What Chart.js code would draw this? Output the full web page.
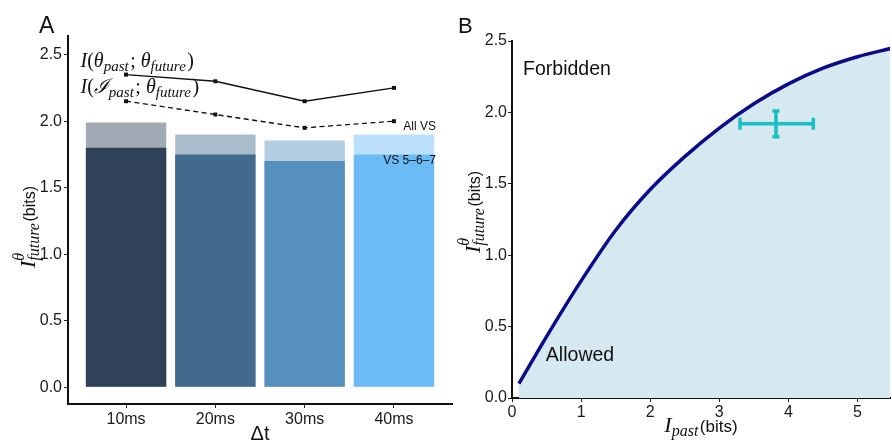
<!DOCTYPE html>
<html>
<head>
<meta charset="utf-8">
<script src="https://cdn.jsdelivr.net/npm/chart.js@4.4.1/dist/chart.umd.min.js"></script>
<style>
  body { margin: 0; background: #fff; }
  #wrap { position: relative; width: 892px; height: 442px; }
  canvas { position: absolute; top: 0; }
</style>
</head>
<body>
<div id="wrap">
  <canvas id="chartA" width="456" height="442" style="left:0px"></canvas>
  <canvas id="chartB" width="436" height="442" style="left:456px"></canvas>
</div>
<script>
// panel A data
var categories = ["10ms", "20ms", "30ms", "40ms"];
var allVS = [1.99, 1.90, 1.855, 1.90];
var vs567 = [1.80, 1.75, 1.70, 1.75];
var iThetaPast = [2.35, 2.30, 2.15, 2.25];
var iImagePast = [2.15, 2.05, 1.95, 2.00];
var yTicksA = [0, 0.5, 1.0, 1.5, 2.0, 2.5];

// panel B data
var iPast = [0.1, 0.5, 1.0, 1.5, 2.0, 2.5, 3.0, 3.5, 4.0, 4.5, 5.0, 5.5];
var boundary = [0.10, 0.43, 0.82, 1.175, 1.46, 1.69, 1.89, 2.06, 2.20, 2.31, 2.39, 2.45];
var measuredX = [3.30, 3.82, 4.36];   // low, mid, high
var measuredY = [1.83, 1.92, 2.01];
var xTicksB = [0, 1, 2, 3, 4, 5];
var yTicksB = [0, 0.5, 1.0, 1.5, 2.0, 2.5];

var barColors = ["#2f4259", "#426a8c", "#5690bf", "#6bbbf7"];
var SANS = "'Liberation Sans', Arial, sans-serif";
var SERIF = "'Liberation Serif', serif";

function fade(hex, a) {
    var r = parseInt(hex.substr(1, 2), 16), g = parseInt(hex.substr(3, 2), 16), b = parseInt(hex.substr(5, 2), 16);
    return "rgba(" + r + "," + g + "," + b + "," + a + ")";
}

// draws a run of math-ish text, returns its width
// st = {main, up, small, supDy, subDy}
function drawRun(ctx, parts, x, y, st, doDraw) {
    var cx = x;
    parts.forEach(function(p) {
        if (p.sup !== undefined || p.sub !== undefined) {
            ctx.font = st.small;
            var w = 0;
            if (p.sup) { if (doDraw) ctx.fillText(p.sup, cx, y + st.supDy); w = Math.max(w, ctx.measureText(p.sup).width); }
            if (p.sub) { if (doDraw) ctx.fillText(p.sub, cx, y + st.subDy); w = Math.max(w, ctx.measureText(p.sub).width); }
            cx += w + 1.5;
        } else {
            ctx.font = p.f === "up" ? st.up : (p.f || st.main);
            if (doDraw) ctx.fillText(p.t, cx, y);
            cx += ctx.measureText(p.t).width;
        }
    });
    return cx - x;
}

var labelStyle = {main: "italic 20px " + SERIF, up: "20px " + SERIF, small: "italic 15px " + SERIF, supDy: -9, subDy: 4};
var titleStyle = {main: "italic 22px " + SERIF, up: "22px " + SERIF, small: "italic 16px " + SERIF, supDy: -11, subDy: 4};

function yTitle(ctx, cx, cy) {
    var parts = [{t: "I"}, {sup: "\u03b8", sub: "future"}, {t: "(bits)", f: "16px " + SANS}];
    ctx.save();
    ctx.translate(cx, cy);
    ctx.rotate(-Math.PI / 2);
    var w = drawRun(ctx, parts, 0, 0, titleStyle, false);
    drawRun(ctx, parts, -w / 2, 0, titleStyle, true);
    ctx.restore();
}

var xs = categories.map(function(c, i) { return i + 1; });

var annotateA = {
    id: "annotateA",
    afterDraw: function(chart) {
        var ctx = chart.ctx, sx = chart.scales.x, sy = chart.scales.y;
        ctx.save();
        ctx.fillStyle = "#111";
        ctx.textBaseline = "alphabetic";
        drawRun(ctx, [{t: "I"}, {t: "(", f: "up"}, {t: "\u03b8"}, {sub: "past"}, {t: "; ", f: "up"}, {t: "\u03b8"}, {sub: "future"}, {t: ")", f: "up"}],
            sx.getPixelForValue(0.49), sy.getPixelForValue(2.41), labelStyle, true);
        drawRun(ctx, [{t: "I"}, {t: "(", f: "up"}, {t: "\u2110"}, {sub: "past"}, {t: "; ", f: "up"}, {t: "\u03b8"}, {sub: "future"}, {t: ")", f: "up"}],
            sx.getPixelForValue(0.49), sy.getPixelForValue(2.21), labelStyle, true);

        ctx.font = "12px " + SANS;
        ctx.textAlign = "right";
        ctx.textBaseline = "middle";
        ctx.fillText("All VS", sx.getPixelForValue(4.47), sy.getPixelForValue(1.955));
        ctx.fillText("VS 5\u20136\u20137", sx.getPixelForValue(4.47), sy.getPixelForValue(1.70));

        ctx.textAlign = "center";
        ctx.font = "20px " + SANS;
        ctx.fillText("\u0394t", (chart.chartArea.left + chart.chartArea.right) / 2, 434);

        ctx.textAlign = "left";
        ctx.textBaseline = "alphabetic";
        ctx.font = "23px " + SANS;
        ctx.fillText("A", 39, 33);

        yTitle(ctx, 35, 227);
        ctx.restore();
    }
};

new Chart(document.getElementById("chartA"), {
    type: "bar",
    data: {
        datasets: [{
            type: "line",
            data: xs.map(function(x, i) { return {x: x, y: iThetaPast[i]}; }),
            borderColor: "#111", borderWidth: 1.3,
            pointStyle: "rect", pointRadius: 2.8, pointBackgroundColor: "#111", pointBorderWidth: 0,
            order: 0
        }, {
            type: "line",
            data: xs.map(function(x, i) { return {x: x, y: iImagePast[i]}; }),
            borderColor: "#111", borderWidth: 1.3, borderDash: [5, 3.5],
            pointStyle: "rect", pointRadius: 2.8, pointBackgroundColor: "#111", pointBorderWidth: 0,
            order: 0
        }, {
            data: xs.map(function(x, i) { return {x: x, y: vs567[i]}; }),
            backgroundColor: barColors,
            grouped: false, barPercentage: 0.9, categoryPercentage: 1,
            order: 1
        }, {
            data: xs.map(function(x, i) { return {x: x, y: allVS[i]}; }),
            backgroundColor: barColors.map(function(c) { return fade(c, 0.45); }),
            grouped: false, barPercentage: 0.9, categoryPercentage: 1,
            order: 2
        }]
    },
    options: {
        responsive: false,
        animation: false,
        layout: {padding: {left: 0, right: 4, top: 36, bottom: 0}},
        plugins: {legend: {display: false}, tooltip: {enabled: false}},
        scales: {
            x: {
                type: "linear", min: 0.35, max: 4.65, offset: false,
                afterBuildTicks: function(s) { s.ticks = xs.map(function(v) { return {value: v}; }); },
                afterFit: function(s) { s.height = 38; },
                ticks: {callback: function(v) { return categories[v - 1]; }, font: {size: 16, family: SANS}, color: "#1a1a1a", padding: 2, maxRotation: 0},
                grid: {offset: false, drawOnChartArea: false, tickLength: 4, tickColor: "#222"},
                border: {display: true, color: "#111", width: 2}
            },
            y: {
                min: -0.125, max: 2.64,
                afterBuildTicks: function(s) { s.ticks = yTicksA.map(function(v) { return {value: v}; }); },
                afterFit: function(s) { s.width = 68; },
                ticks: {callback: function(v) { return v.toFixed(1); }, font: {size: 16, family: SANS}, color: "#1a1a1a", padding: 2},
                grid: {drawOnChartArea: false, tickLength: 4, tickColor: "#222"},
                border: {display: true, color: "#111", width: 2}
            }
        }
    },
    plugins: [annotateA]
});

var annotateB = {
    id: "annotateB",
    afterDatasetsDraw: function(chart) {
        var ctx = chart.ctx, sx = chart.scales.x, sy = chart.scales.y;
        var x0 = sx.getPixelForValue(measuredX[0]), xm = sx.getPixelForValue(measuredX[1]), x1 = sx.getPixelForValue(measuredX[2]);
        var y0 = sy.getPixelForValue(measuredY[0]), ym = sy.getPixelForValue(measuredY[1]), y1 = sy.getPixelForValue(measuredY[2]);
        ctx.save();
        ctx.strokeStyle = "#19bfc4";
        ctx.lineWidth = 3.5;
        ctx.beginPath();
        ctx.moveTo(x0, ym); ctx.lineTo(x1, ym);
        ctx.moveTo(x0, ym - 6); ctx.lineTo(x0, ym + 6);
        ctx.moveTo(x1, ym - 6); ctx.lineTo(x1, ym + 6);
        ctx.moveTo(xm, y0); ctx.lineTo(xm, y1);
        ctx.moveTo(xm - 3.5, y0); ctx.lineTo(xm + 3.5, y0);
        ctx.moveTo(xm - 3.5, y1); ctx.lineTo(xm + 3.5, y1);
        ctx.stroke();
        ctx.restore();
    },
    afterDraw: function(chart) {
        var ctx = chart.ctx, sx = chart.scales.x, sy = chart.scales.y;
        ctx.save();
        ctx.fillStyle = "#111";
        ctx.textAlign = "left";
        ctx.textBaseline = "middle";
        ctx.font = "19.5px " + SANS;
        ctx.fillText("Forbidden", sx.getPixelForValue(0.16), sy.getPixelForValue(2.30));
        ctx.fillText("Allowed", sx.getPixelForValue(0.49), sy.getPixelForValue(0.30));

        ctx.textBaseline = "alphabetic";
        ctx.font = "22px " + SANS;
        ctx.fillText("B", 2, 33);

        var parts = [{t: "I"}, {sub: "past"}, {t: "(bits)", f: "17px " + SANS}];
        var w = drawRun(ctx, parts, 0, 0, titleStyle, false);
        drawRun(ctx, parts, (chart.chartArea.left + chart.chartArea.right) / 2 - w / 2, 432, titleStyle, true);

        yTitle(ctx, 24, 212);
        ctx.restore();
    }
};

new Chart(document.getElementById("chartB"), {
    type: "line",
    data: {
        datasets: [{
            data: iPast.map(function(x, i) { return {x: x, y: boundary[i]}; }),
            borderColor: "#0b0b8a", borderWidth: 3.5,
            backgroundColor: "#d6e9f1",
            fill: "origin",
            pointRadius: 0,
            cubicInterpolationMode: "monotone"
        }]
    },
    options: {
        responsive: false,
        animation: false,
        layout: {padding: {left: 0, right: 2, top: 41, bottom: 0}},
        plugins: {legend: {display: false}, tooltip: {enabled: false}},
        scales: {
            x: {
                type: "linear", min: 0, max: 5.47,
                afterBuildTicks: function(s) { s.ticks = xTicksB.map(function(v) { return {value: v}; }); },
                afterFit: function(s) { s.height = 44; },
                ticks: {callback: function(v) { return String(v); }, font: {size: 16, family: SANS}, color: "#1a1a1a", padding: 1, maxRotation: 0},
                grid: {drawOnChartArea: false, tickLength: 4, tickColor: "#222"},
                border: {display: true, color: "#111", width: 2}
            },
            y: {
                min: 0, max: 2.5,
                afterBuildTicks: function(s) { s.ticks = yTicksB.map(function(v) { return {value: v}; }); },
                afterFit: function(s) { s.width = 56; },
                ticks: {callback: function(v) { return v.toFixed(1); }, font: {size: 16, family: SANS}, color: "#1a1a1a", padding: 1},
                grid: {drawOnChartArea: false, tickLength: 4, tickColor: "#222"},
                border: {display: true, color: "#111", width: 2}
            }
        }
    },
    plugins: [annotateB]
});
</script>
</body>
</html>
